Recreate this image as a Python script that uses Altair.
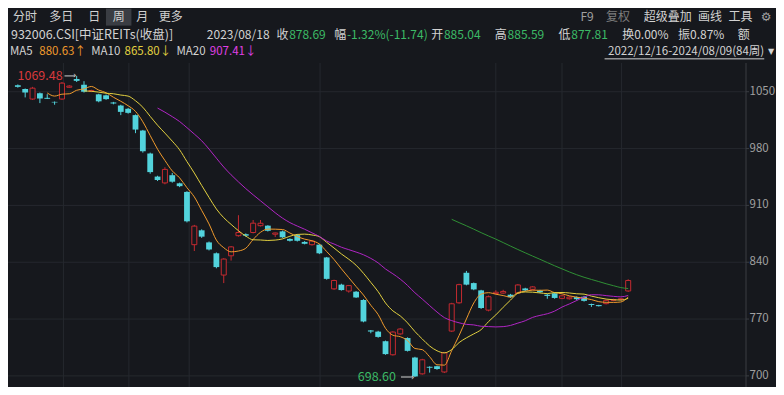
import altair as alt
import pandas as pd

# ---------------- data (weekly OHLC) ----------------
opens = [1058, 1053.5, 1041, 1048, 1042.5, 1037.5, 1041, 1055.5, 1065.7, 1058.6,
         1050.5, 1046.8, 1045.6, 1036.8, 1033, 1029, 1021.2, 1002.2, 973.9, 945.5,
         937.7, 947.2, 937.2, 926.6, 861.6, 879.3, 864.4, 851, 824.2, 847.9,
         872.7, 874.5, 876.6, 885, 885.04, 874.5, 878, 868.7, 873.4, 865,
         861.6, 861.6, 845.9, 807.2, 812.4, 804.5, 803.7, 793.5, 756, 754.5,
         742.7, 726, 751.7, 746.6, 722.6, 702.5, 711.2, 711.9, 704.8, 755.2,
         790, 827, 814.3, 805.3, 781, 801.5, 802, 800, 802, 807.7,
         806.6, 805, 800, 801.8, 795.5, 795, 797, 797.5, 788.5, 787.2,
         789, 793, 794, 804.6]
highs = [1059, 1054, 1056, 1049, 1047, 1038, 1062, 1058, 1069.48, 1063,
         1052.5, 1047.5, 1046.5, 1037.5, 1034, 1030, 1022, 1003, 975, 946.5,
         957, 950, 938, 927.5, 886, 880.5, 865.5, 852, 845, 860,
         897.9, 875.5, 892, 892, 885.59, 876.5, 879, 869.5, 874.5, 866,
         867, 862.5, 846.5, 818.5, 813.5, 812, 804.5, 794.5, 756.5, 755.5,
         743.5, 755, 759, 747.5, 723.5, 721, 711.8, 712.5, 729.5, 790,
         813.5, 829.3, 815, 806, 799, 805.5, 806, 801, 813, 808.5,
         810.5, 806, 801, 802.5, 799.5, 798, 798, 798.5, 789, 787.5,
         794, 795, 796, 819]
lows = [1055, 1043, 1040, 1036, 1041, 1034, 1040, 1055, 1062, 1049,
        1049.5, 1037, 1040, 1034.5, 1021.2, 1023, 999, 975, 949, 940,
        936, 938, 932.5, 889, 853.8, 870, 854.5, 832.5, 814.3, 842,
        871.5, 871.5, 875.5, 884, 877.81, 871, 870, 865.5, 865.5, 862,
        860.5, 850, 818.5, 806, 805, 802.5, 796, 766, 752.5, 747,
        726, 725, 750.5, 730, 698.6, 701.5, 704, 707.5, 703.5, 754,
        789, 811.5, 805.5, 782.5, 779.5, 800.5, 801, 796, 801, 804.5,
        805.5, 802, 795, 795, 794.5, 794, 793, 791.5, 785, 785.5,
        788, 792, 793, 803.5]
closes = [1056, 1049, 1054.4, 1041.8, 1041.3, 1036.8, 1060.6, 1057, 1063.4, 1050,
          1051.5, 1038.2, 1040.9, 1035.5, 1025.2, 1024, 1003.4, 976.7, 951, 941.3,
          954.3, 939.2, 933.7, 890.4, 884.5, 871.5, 855.7, 834, 843.9, 858.9,
          876.6, 872.7, 888.1, 888, 878.69, 876, 870.7, 866.4, 866.4, 862.7,
          866, 851, 819.5, 817.5, 805.7, 811.2, 796.6, 767, 754.6, 748,
          726.8, 754, 757.7, 730.8, 699.3, 719.8, 710, 708.5, 728.5, 788.8,
          812.4, 812.4, 806.5, 783.6, 797.5, 803, 804, 797, 812, 805.3,
          809.6, 803, 798.5, 796, 798.6, 797, 794.5, 792.4, 787.3, 785.9,
          793, 794, 795, 817.5]
week = list(range(len(closes)))

y_ticks = [700, 770, 840, 910, 980, 1050]
grid_weeks = [6.2, 15.1, 23.3, 41.1, 65.0, 74.0, 82.1]
ma_periods = [5, 10, 20, 60]

# ---------------- style ----------------
BG = "#16181d"
CYAN = "#52d3dc"
RED = "#c42a30"
RED_TXT = "#d8383c"
GREEN_TXT = "#3cba66"
ORANGE = "#f09a2c"
YELLOW = "#e2d040"
MAGENTA = "#b025c4"
MAG_TXT = "#e040e6"
MA60C = "#2f8f34"
WHITE = "#d2d2d2"
GRAY = "#a0a0a0"
GRID = "#25282e"
AXC = "#3a3d43"
FONT = "Noto Sans CJK SC"

SX = 768 / 784
SY = 379 / 395
PT = 55
PW = 738
PH = 324

df = pd.DataFrame({"i": week, "open": opens, "high": highs, "low": lows, "close": closes})
df["up"] = df["close"] >= df["open"]
up_df = df[df["up"]]
dn_df = df[~df["up"]]

# moving averages of the closes (what the MA lines show)
ma_rows = []
for n in ma_periods:
    m = df["close"].rolling(n).mean()
    for i, v in zip(df["i"], m):
        if pd.notna(v):
            ma_rows.append({"i": i, "m": float(v), "ma": f"MA{n}"})
ma_df = pd.DataFrame(ma_rows)

hi_row = df.loc[[df["high"].idxmax()], ["i", "high"]].rename(columns={"high": "v"})
lo_row = df.loc[[df["low"].idxmin()], ["i", "low"]].rename(columns={"low": "v"})

xs = alt.Scale(domain=[-0.657, 98.34], nice=False, zero=False)
ys = alt.Scale(domain=[686.3, 1085.4], nice=False, zero=False)
X = alt.X("i:Q", scale=xs, axis=None)

# ---- price axis on the right (drawn as marks) ----
tick_df = pd.DataFrame({"v": y_ticks})
hgrid = alt.Chart(tick_df).mark_rule(color=GRID, strokeWidth=1).encode(
    y=alt.Y("v:Q", scale=ys, axis=None))
vgrid = alt.Chart(pd.DataFrame({"g": grid_weeks})).mark_rule(color=GRID, strokeWidth=1).encode(
    x=alt.X("g:Q", scale=xs, axis=None))
ax_line = alt.Chart(pd.DataFrame({"t": [0]})).mark_rule(color=AXC, strokeWidth=1).encode(
    x=alt.value(PW), y=alt.value(0), y2=alt.value(PH))
ax_ticks = alt.Chart(tick_df).mark_rule(color=AXC, strokeWidth=1).encode(
    x=alt.value(PW), x2=alt.value(PW + 3), y=alt.Y("v:Q", scale=ys, axis=None))
ax_labels = alt.Chart(tick_df).mark_text(align="left", baseline="middle", font=FONT, fontSize=11.5,
                                         color=GRAY).encode(
    x=alt.value(PW + 3.5), y=alt.Y("v:Q", scale=ys, axis=None), text="v:Q")

# ---- candles ----
wick_up = alt.Chart(up_df).mark_rule(strokeWidth=1, color=RED).encode(
    x=X, y=alt.Y("low:Q", scale=ys, axis=None), y2="high:Q")
wick_dn = alt.Chart(dn_df).mark_rule(strokeWidth=1, color=CYAN).encode(
    x=X, y=alt.Y("low:Q", scale=ys, axis=None), y2="high:Q")
down = alt.Chart(dn_df).mark_bar(size=5.8, color=CYAN).encode(
    x=X, y=alt.Y("open:Q", scale=ys, axis=None), y2="close:Q")
up = alt.Chart(up_df).mark_bar(size=5.0, fill=BG, stroke=RED, strokeWidth=1).encode(
    x=X, y=alt.Y("close:Q", scale=ys, axis=None), y2="open:Q")

ma_lines = alt.Chart(ma_df).mark_line(strokeWidth=1, interpolate="monotone").encode(
    x=X, y=alt.Y("m:Q", scale=ys, axis=None),
    color=alt.Color("ma:N", scale=alt.Scale(domain=["MA60", "MA20", "MA10", "MA5"],
                                            range=[MA60C, MAGENTA, YELLOW, ORANGE]), legend=None),
    order=alt.Order("i:Q"))


def annot(row, color, dx, a1, a2):
    b = alt.Chart(row)
    t = b.mark_text(align="right", baseline="middle", dx=dx, font=FONT, fontSize=12.5, color=color).encode(
        x=X, y=alt.Y("v:Q", scale=ys, axis=None), text=alt.Text("v:Q", format=".2f"))
    r = b.transform_calculate(a1=f"datum.i - {a1}", a2=f"datum.i - {a2}").mark_rule(
        color=WHITE, strokeWidth=1).encode(
        x=alt.X("a1:Q", scale=xs, axis=None), x2="a2:Q", y=alt.Y("v:Q", scale=ys, axis=None))
    h = b.transform_calculate(a2=f"datum.i - {a2}").mark_text(
        align="right", baseline="middle", dx=1.5, dy=-0.5, font="DejaVu Sans", fontSize=9,
        color=WHITE, text="›").encode(
        x=alt.X("a2:Q", scale=xs, axis=None), y=alt.Y("v:Q", scale=ys, axis=None))
    return [r, h, t]


hi_layers = annot(hi_row, RED_TXT, -14, 1.65, 0.2)
lo_layers = annot(lo_row, GREEN_TXT, -19, 1.9, 0.25)


# ---------------- header texts ----------------
def txt(s, xr, yr, color, size=12, align="left", font=FONT):
    return alt.Chart(pd.DataFrame({"t": [s]})).mark_text(
        align=align, baseline="middle", font=font, fontSize=size, color=color).encode(
        x=alt.value(xr * SX), y=alt.value(yr * SY - PT), text="t:N")


def hline(x1, x2, yr, color, w=1):
    return alt.Chart(pd.DataFrame({"t": [0]})).mark_rule(color=color, strokeWidth=w).encode(
        x=alt.value(x1 * SX), x2=alt.value(x2 * SX), y=alt.value(yr * SY - PT))


R1, R2, R3 = 9.5, 27.8, 45.8
F1 = 12
F2 = 12
F3 = 11.5
header = [
    hline(100, 126, 9.5, "#3a3d43", w=17),
    txt("分时", 5, R1, WHITE, F1), txt("多日", 42, R1, WHITE, F1), txt("日", 82, R1, WHITE, F1),
    txt("周", 107, R1, WHITE, F1), txt("月", 131, R1, WHITE, F1), txt("更多", 154, R1, WHITE, F1),
    txt("F9", 598, R1, GRAY, F1, align="right"), txt("复权", 635, R1, "#7c7c7c", F1, align="right"),
    txt("超级叠加", 698, R1, WHITE, F1, align="right"),
    txt("画线", 729, R1, WHITE, F1, align="right"), txt("工具", 760, R1, WHITE, F1, align="right"),
    txt("⚙", 774, R1, GRAY, 12, align="center", font="DejaVu Sans"),
    txt("932006.CSI[中证REITs(收盘)]", 3, R2, WHITE, 12.5),
    txt("2023/08/18", 203, R2, WHITE, F2),
    txt("收", 274, R2, WHITE, F2), txt("878.69", 287, R2, GREEN_TXT, F2),
    txt("幅", 333, R2, WHITE, F2), txt("-1.32%(-11.74)", 346, R2, GREEN_TXT, F2),
    txt("开", 432, R2, WHITE, F2), txt("885.04", 445, R2, GREEN_TXT, F2),
    txt("高", 497, R2, WHITE, F2), txt("885.59", 510, R2, GREEN_TXT, F2),
    txt("低", 562, R2, WHITE, F2), txt("877.81", 575, R2, GREEN_TXT, F2),
    txt("换0.00%", 627, R2, WHITE, F2), txt("振0.87%", 684, R2, WHITE, F2), txt("额", 745, R2, WHITE, F2),
    txt("MA5", 2, R3, WHITE, F3), txt("880.63↑", 32, R3, ORANGE, F3),
    txt("MA10", 85, R3, WHITE, F3), txt("865.80↓", 119, R3, YELLOW, F3),
    txt("MA20", 172, R3, WHITE, F3), txt("907.41↓", 206, R3, MAG_TXT, F3),
    txt("2022/12/16-2024/08/09(84周)", 772, R3, WHITE, F3, align="right"),
    hline(609, 772, 53, WHITE),
    txt("▼", 779, R3, WHITE, 8, align="center", font="DejaVu Sans"),
]

chart = alt.layer(
    hgrid, vgrid, ax_line, ax_ticks, ax_labels,
    wick_up, wick_dn, down, up, ma_lines,
    *hi_layers, *lo_layers,
    *header
).properties(
    width=PW, height=PH,
    padding={"left": 0, "top": PT, "right": 768 - PW, "bottom": 0},
    autosize=alt.AutoSizeParams(type="none"),
    background=BG,
).configure_view(stroke=None)

chart.save("out.html", embed_options={"renderer": "svg", "actions": False})
